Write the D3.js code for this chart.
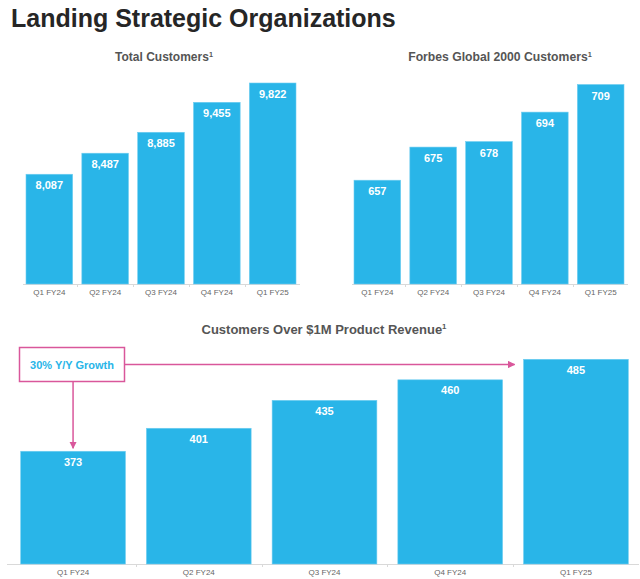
<!DOCTYPE html>
<html><head><meta charset="utf-8">
<script src="https://cdn.jsdelivr.net/npm/d3@7"></script>
<style>html,body{margin:0;padding:0;background:#fff;}svg{display:block;font-family:"Liberation Sans",Arial,sans-serif;}</style>
</head><body>
<script>
const quarters = ["Q1 FY24","Q2 FY24","Q3 FY24","Q4 FY24","Q1 FY25"];
const totalCustomers = [8087, 8487, 8885, 9455, 9822];
const forbesCustomers = [657, 675, 678, 694, 709];
const millionCustomers = [373, 401, 435, 460, 485];
const titleText = "Landing Strategic Organizations";
const chartTitles = ["Total Customers", "Forbes Global 2000 Customers", "Customers Over $1M Product Revenue"];
const annotationText = "30% Y/Y Growth";

const W = 640, H = 579;
const blue = "#29b5e8", pink = "#d9579b";
const svg = d3.select("body").append("svg").attr("width", W).attr("height", H);

svg.append("defs").append("marker").attr("id","arr").attr("viewBox","0 0 10 10")
  .attr("refX",9).attr("refY",5).attr("markerWidth",5).attr("markerHeight",5).attr("orient","auto")
  .append("path").attr("d","M0,0L10,5L0,10Z").attr("fill",pink);

svg.append("text").attr("x",11).attr("y",27).attr("font-size",25).attr("font-weight","bold")
  .attr("fill","#262626").text(titleText);

function chart(cfg){
  const x = d3.scaleBand().domain(quarters).range(cfg.xr).paddingInner(cfg.pad).paddingOuter(0);
  const y = d3.scaleLinear().domain(cfg.yd).range([cfg.base, cfg.top]);
  const g = svg.append("g");
  const t = g.append("text").attr("x",cfg.tx).attr("y",cfg.ty).attr("text-anchor","middle")
    .attr("font-size",cfg.tfs).attr("font-weight","bold").attr("fill","#555");
  t.append("tspan").text(cfg.title);
  t.append("tspan").attr("font-size",cfg.tfs*0.6).attr("dy",-cfg.tfs*0.35).text("1");
  // axis
  const ax = g.append("g").attr("transform",`translate(0,${cfg.base+0.5})`)
    .call(d3.axisBottom(x).tickSize(0).tickPadding(cfg.lp));
  ax.select(".domain").remove();
  ax.selectAll("text").attr("font-size",cfg.lfs).attr("fill","#666").attr("font-family","Liberation Sans, Arial, sans-serif");
  g.append("line").attr("x1",cfg.ax[0]).attr("x2",cfg.ax[1]).attr("y1",cfg.base+0.5).attr("y2",cfg.base+0.5)
    .attr("stroke","#d9d9d9").attr("stroke-width",1);
  const step = x.step();
  quarters.slice(0,-1).forEach(q=>{
    const xx = Math.round(x(q)+x.bandwidth()+(step-x.bandwidth())/2)+0.5;
    g.append("line").attr("x1",xx).attr("x2",xx).attr("y1",cfg.base).attr("y2",cfg.base+3).attr("stroke","#d9d9d9");
  });
  g.selectAll("rect.b").data(cfg.values).join("rect").attr("class","b")
    .attr("x",(d,i)=>x(quarters[i])).attr("width",x.bandwidth())
    .attr("y",d=>y(d)).attr("height",d=>cfg.base-y(d))
    .attr("fill",blue).attr("stroke","#6fcdf0").attr("stroke-width",0.6);
  g.selectAll("text.v").data(cfg.values).join("text").attr("class","v")
    .attr("x",(d,i)=>x(quarters[i])+x.bandwidth()/2).attr("y",d=>y(d)+cfg.vo)
    .attr("text-anchor","middle").attr("font-size",cfg.vfs).attr("font-weight","bold").attr("fill","#fff")
    .text(d=>d3.format(",")(d));
  return {x,y};
}

chart({values: totalCustomers, title: chartTitles[0], xr:[26,296], pad:0.165, yd:[6000,9822], base:284, top:83,
  tx:164, ty:61, tfs:12, ax:[23,300], lp:5, lfs:8, vo:15, vfs:11});
chart({values: forbesCustomers, title: chartTitles[1], xr:[354,624], pad:0.165, yd:[600.6,709], base:284, top:84.5,
  tx:500, ty:61, tfs:12.2, ax:[352,628], lp:5, lfs:8, vo:15, vfs:11});
const c3 = chart({values: millionCustomers, title: chartTitles[2], xr:[20.7,628.3], pad:0.167, yd:[235.7,485], base:564, top:359.3,
  tx:324, ty:334, tfs:13, ax:[7,639], lp:5, lfs:8, vo:14.5, vfs:11});

// annotation
const bx = 19.5, by = 347.5, bw = 105, bh = 34;
svg.append("rect").attr("x",bx).attr("y",by).attr("width",bw).attr("height",bh)
  .attr("fill","#fff").attr("stroke",pink).attr("stroke-width",1.5);
svg.append("text").attr("x",bx+bw/2).attr("y",by+bh/2+4).attr("text-anchor","middle")
  .attr("font-size",11).attr("font-weight","bold").attr("fill",blue).text(annotationText);
const x1 = c3.x(quarters[0]) + c3.x.bandwidth()/2;
svg.append("line").attr("x1",x1).attr("x2",x1).attr("y1",by+bh).attr("y2",c3.y(millionCustomers[0])-3)
  .attr("stroke",pink).attr("stroke-width",1.5).attr("marker-end","url(#arr)");
svg.append("line").attr("x1",bx+bw).attr("x2",c3.x(quarters[4])-9).attr("y1",by+bh/2).attr("y2",by+bh/2)
  .attr("stroke",pink).attr("stroke-width",1.5).attr("marker-end","url(#arr)");
</script>
</body></html>
